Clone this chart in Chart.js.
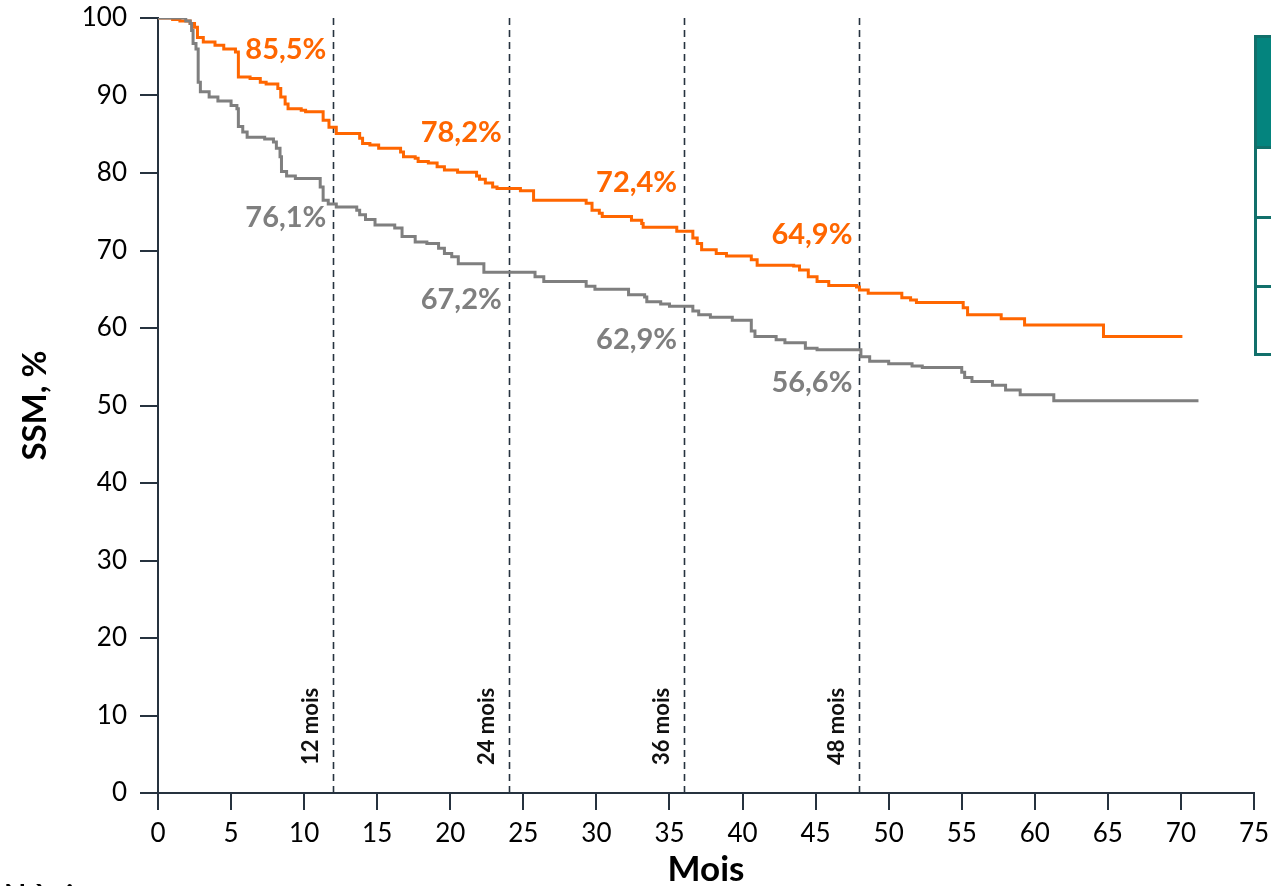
<!DOCTYPE html>
<html>
<head>
<meta charset="utf-8">
<script src="https://cdn.jsdelivr.net/npm/chart.js@4.4.1/dist/chart.umd.min.js"></script>
<style>
  html, body { margin: 0; padding: 0; background: #fff; overflow: hidden; }
  #wrap { position: relative; width: 1271px; height: 886px; overflow: hidden; }
  canvas { display: block; }
  .tblHead { position: absolute; left: 1254px; top: 35px; width: 40px; height: 114px; background: #04847e; border: 3px solid #11706b; box-sizing: border-box; }
  .tblRow { position: absolute; left: 1254px; width: 40px; border-left: 3px solid #11706b; border-bottom: 3px solid #11706b; box-sizing: border-box; }
  .nrisk { position: absolute; left: 4px; top: 876px; font: bold 29px Lato, sans-serif; color: #000; white-space: nowrap; }
</style>
</head>
<body>
<div id="wrap">
  <canvas id="km" width="1271" height="886"></canvas>
  <div class="tblHead"></div>
  <div class="tblRow" style="top:149px;height:70px"></div>
  <div class="tblRow" style="top:219px;height:69px"></div>
  <div class="tblRow" style="top:288px;height:68px"></div>
  <div class="nrisk">N à risque</div>
</div>
<script>
"use strict";
// ── Courbes de survie (mois / SSM %) ──
const orangeMonths = [0, 1.0, 1.5, 2.2, 2.5, 2.7, 3.1, 3.9, 4.5, 5.3, 5.5, 6.3, 7.0, 7.4, 8.2, 8.4, 8.7, 8.9, 9.8, 10.1,
  11.3, 11.7, 12.2, 13.8, 14.0, 14.5, 15.1, 16.6, 16.8, 17.6, 17.8, 18.5, 19.1, 19.6, 20.5, 21.8, 22.0, 22.4, 22.9, 23.2,
  24.8, 25.7, 29.3, 29.7, 30.2, 30.4, 32.4, 33.1, 33.2, 35.5, 36.6, 36.9, 37.2, 38.2, 38.9, 40.6, 41.0, 43.5, 43.9, 44.5,
  45.1, 45.9, 47.8, 48.0, 48.6, 50.9, 51.5, 51.9, 55.1, 55.4, 57.7, 59.3, 64.7, 70.1];
const orangeSurv = [100, 99.8, 99.6, 99.3, 98.8, 97.5, 96.9, 96.5, 96.0, 95.6, 92.4, 92.2, 91.7, 91.5, 90.9, 89.8, 88.9, 88.3, 88.1, 87.9,
  86.8, 85.9, 85.1, 84.5, 83.8, 83.6, 83.2, 82.7, 82.1, 81.9, 81.5, 81.3, 80.8, 80.4, 80.1, 79.6, 79.2, 78.7, 78.2, 78.0,
  77.7, 76.5, 76.1, 75.2, 74.8, 74.4, 73.9, 73.5, 73.0, 72.5, 71.6, 70.9, 70.1, 69.6, 69.3, 68.8, 68.1, 68.0, 67.5, 66.6,
  66.0, 65.5, 65.3, 64.9, 64.5, 63.9, 63.6, 63.3, 62.6, 61.7, 61.2, 60.4, 58.9, 58.9];

const grayMonths = [0, 1.9, 2.2, 2.3, 2.4, 2.6, 2.75, 2.9, 3.5, 4.1, 5.0, 5.4, 5.5, 5.8, 6.1, 7.3, 7.9, 8.1, 8.35, 8.45,
  8.8, 9.4, 11.1, 11.3, 11.65, 12.2, 13.6, 13.8, 14.2, 14.85, 16.2, 16.7, 17.6, 18.4, 19.2, 19.6, 20.1, 20.55, 22.3, 25.8,
  26.4, 29.3, 29.9, 32.2, 33.3, 33.45, 34.4, 35.0, 36.6, 37.0, 37.8, 39.3, 40.6, 40.85, 42.3, 42.9, 44.3, 45.1, 48.1, 48.7,
  50.0, 51.6, 52.3, 55.0, 55.2, 55.7, 57.1, 58.0, 59.0, 61.3, 71.2];
const graySurv = [100, 99.6, 99.3, 98.4, 96.7, 96.0, 91.7, 90.5, 89.8, 89.3, 88.7, 88.3, 86.0, 85.3, 84.6, 84.4, 84.0, 83.2, 82.1, 80.2,
  79.6, 79.3, 78.2, 76.5, 76.0, 75.6, 75.2, 74.6, 74.0, 73.3, 72.9, 71.8, 71.1, 70.9, 70.3, 69.6, 69.2, 68.3, 67.2, 66.6,
  66.0, 65.4, 65.0, 64.3, 64.0, 63.4, 63.1, 62.8, 62.2, 61.7, 61.4, 61.0, 59.6, 58.9, 58.5, 58.1, 57.4, 57.2, 56.3, 55.7,
  55.4, 55.1, 54.9, 54.3, 53.6, 53.1, 52.6, 52.0, 51.4, 50.6, 50.6];

// ── Repères ──
const landmarkMonths = [12, 24, 36, 48];
const landmarkLabels = ["12 mois", "24 mois", "36 mois", "48 mois"];
const orangeAtLandmark = ["85,5%", "78,2%", "72,4%", "64,9%"];
const grayAtLandmark = ["76,1%", "67,2%", "62,9%", "56,6%"];

const ORANGE = "#ff6600";
const GREY = "#7f7f7f";
const AXIS = "#26323f";
const FONT = "Lato, 'Open Sans', sans-serif";

const landmarkPlugin = {
  id: "landmarks",
  beforeDatasetsDraw(chart, args, opts) {
    const { ctx, chartArea } = chart;
    const xs = chart.scales.x;
    ctx.save();
    landmarkMonths.forEach((m, i) => {
      const px = Math.round(xs.getPixelForValue(m)) + 0.5;
      ctx.strokeStyle = AXIS;
      ctx.lineWidth = 1.6;
      ctx.setLineDash([7, 5]);
      ctx.beginPath();
      ctx.moveTo(px, chartArea.top);
      ctx.lineTo(px, chartArea.bottom);
      ctx.stroke();
      ctx.setLineDash([]);

      // vertical month label
      ctx.save();
      ctx.translate(px - 16, chartArea.bottom - 28);
      ctx.rotate(-Math.PI / 2);
      ctx.fillStyle = "#111";
      ctx.font = "bold 22px " + FONT;
      ctx.textAlign = "left";
      ctx.textBaseline = "alphabetic";
      ctx.fillText(landmarkLabels[i], 0, 0);
      ctx.restore();
    });
    ctx.restore();
  },
  afterDatasetsDraw(chart, args, opts) {
    const { ctx } = chart;
    const xs = chart.scales.x, ys = chart.scales.y;
    ctx.save();
    ctx.font = "bold 29px " + FONT;
    ctx.textAlign = "right";
    ctx.textBaseline = "middle";
    landmarkMonths.forEach((m, i) => {
      const px = xs.getPixelForValue(m) - 7;
      ctx.fillStyle = ORANGE;
      ctx.fillText(orangeAtLandmark[i], px, ys.getPixelForValue(opts.orangeLabelY[i]));
      ctx.fillStyle = GREY;
      ctx.fillText(grayAtLandmark[i], px, ys.getPixelForValue(opts.grayLabelY[i]));
    });
    ctx.restore();
  }
};

const toPts = (xs, ys) => xs.map((x, i) => ({ x, y: ys[i] }));

new Chart(document.getElementById("km").getContext("2d"), {
  type: "line",
  data: {
    datasets: [
      { label: "gris", data: toPts(grayMonths, graySurv), borderColor: GREY, borderWidth: 3, stepped: "before", pointRadius: 0, fill: false },
      { label: "orange", data: toPts(orangeMonths, orangeSurv), borderColor: ORANGE, borderWidth: 3, stepped: "before", pointRadius: 0, fill: false }
    ]
  },
  options: {
    responsive: false,
    animation: false,
    layout: { padding: { left: 0, top: 18, right: 17, bottom: 0 } },
    plugins: {
      legend: { display: false },
      tooltip: { enabled: false },
      landmarks: {
        orangeLabelY: [95.9, 85.2, 78.7, 72.0],
        grayLabelY: [74.2, 63.6, 58.5, 52.9]
      }
    },
    scales: {
      x: {
        type: "linear", min: 0, max: 75,
        ticks: { stepSize: 5, color: "#000", font: { family: FONT, size: 26 }, padding: 8, maxRotation: 0, autoSkip: false },
        grid: { drawOnChartArea: false, drawTicks: true, tickLength: 17, color: AXIS, lineWidth: 2 },
        border: { color: AXIS, width: 2 },
        title: { display: true, text: "Mois", color: "#000", font: { family: FONT, size: 35, weight: "bold" }, padding: { top: 0, bottom: -5 } },
        afterFit(s) { s.height = 93; s.paddingLeft = 0; s.paddingRight = 0; }
      },
      y: {
        min: 0, max: 100,
        ticks: { stepSize: 10, color: "#000", font: { family: FONT, size: 26 }, padding: 13 },
        grid: { drawOnChartArea: false, drawTicks: true, tickLength: 18, color: AXIS, lineWidth: 2 },
        border: { color: AXIS, width: 2 },
        title: { display: true, text: "SSM, %", color: "#000", font: { family: FONT, size: 33, weight: "bold" }, padding: { top: 16, bottom: 0 } },
        afterFit(s) { s.width = 158; s.paddingTop = 0; s.paddingBottom = 0; }
      }
    }
  },
  plugins: [landmarkPlugin]
});
</script>
</body>
</html>
